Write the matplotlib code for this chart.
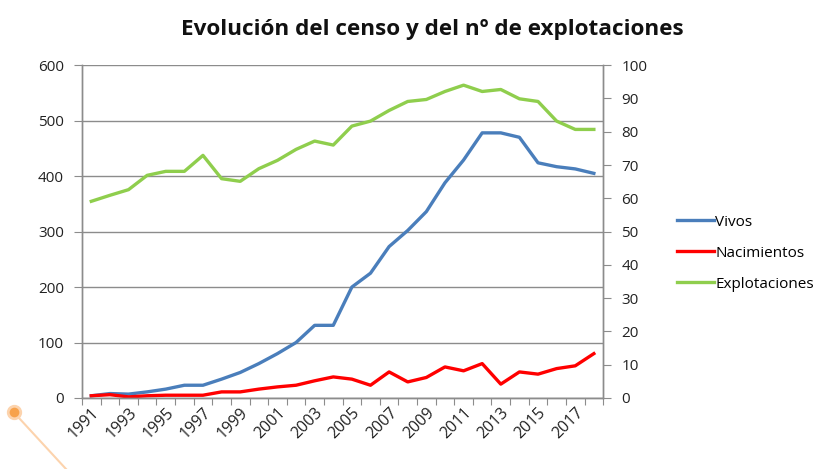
import numpy as np
import matplotlib.pyplot as plt
from matplotlib.lines import Line2D

# datos
years = list(range(1991, 2019))
vivos = [4, 8, 7, 11, 16, 23, 23, 34, 46, 62, 80, 100, 131, 131, 200, 225,
         273, 302, 336, 388, 429, 478, 478, 470, 424, 417, 413, 405]
nacimientos = [4, 6, 2, 4, 5, 5, 5, 11, 11, 16, 20, 23, 31, 38, 34, 23,
               47, 29, 37, 56, 49, 62, 25, 47, 43, 53, 58, 80]
explotaciones = [59.1, 60.9, 62.6, 66.9, 68.1, 68.1, 72.9, 65.9, 65.1, 68.9,
                 71.4, 74.7, 77.2, 76.0, 81.7, 83.2, 86.4, 89.1, 89.7, 92.1,
                 94.0, 92.1, 92.7, 89.9, 89.1, 83.2, 80.7, 80.7]

plt.rcParams['font.family'] = ['Open Sans', 'DejaVu Sans']
grey = '#8c8c8c'
txt = '#222222'

fig = plt.figure(figsize=(8.24, 4.69), dpi=100)
ax = fig.add_axes([0.0995, 0.1514, 0.6325, 0.7096])
ax2 = ax.twinx()

x = np.arange(len(years))
l1, = ax.plot(x, vivos, color='#4a7ebb', lw=2.4, label='Vivos')
l2, = ax.plot(x, nacimientos, color='#ff0000', lw=2.4, label='Nacimientos')
l3, = ax2.plot(x, explotaciones, color='#8fce4d', lw=2.4, label='Explotaciones')

ax.set_xlim(-0.5, len(years) - 0.5)
ax.set_ylim(0, 600)
ax.set_yticks(range(0, 601, 100))
ax2.set_ylim(0, 100)
ax2.set_yticks(range(0, 101, 10))

# marcas entre categorías, etiquetas cada dos años
ax.set_xticks(np.arange(-0.5, len(years), 1))
ax.set_xticklabels([])
ax.set_xticks(x[::2], minor=True)
ax.set_xticklabels([str(y) for y in years[::2]], minor=True, rotation=45,
                   ha='right', rotation_mode='anchor', fontsize=11.5, color=txt)
ax.tick_params(axis='x', which='major', length=5, color=grey, direction='out')
ax.tick_params(axis='x', which='minor', length=0, pad=5)

ax.yaxis.grid(True, color=grey, lw=1)
ax.set_axisbelow(True)
ax.tick_params(axis='y', length=6, color=grey, labelsize=11, labelcolor=txt, pad=7)
ax2.tick_params(axis='y', length=6, color=grey, labelsize=11, labelcolor=txt, pad=7)

for a in (ax, ax2):
    a.spines['top'].set_visible(False)
    for s in ('left', 'right', 'bottom'):
        a.spines[s].set_color(grey)
        a.spines[s].set_linewidth(1)

fig.text(0.525, 0.937, 'Evolución del censo y del nº de explotaciones',
         ha='center', va='center', fontsize=16.2, fontweight='bold', color='#111111')

fig.legend(handles=[l1, l2, l3], loc='center left', bbox_to_anchor=(0.805, 0.46),
           frameon=False, fontsize=11, handlelength=2.4, handletextpad=0.1,
           labelspacing=1.05)

# marca naranja de la captura (esquina inferior izquierda)
fig.add_artist(Line2D([19 / 824, 66 / 824], [1 - 418 / 469, 0.0],
                      transform=fig.transFigure, color='#fcd3ad', lw=1.5))
fig.add_artist(Line2D([14 / 824], [1 - 412 / 469], transform=fig.transFigure,
                      marker='o', markersize=9, markerfacecolor='#f7a24c',
                      markeredgecolor='#fcd3ad', markeredgewidth=2, linestyle='none'))

plt.savefig('out.png', dpi=100)
